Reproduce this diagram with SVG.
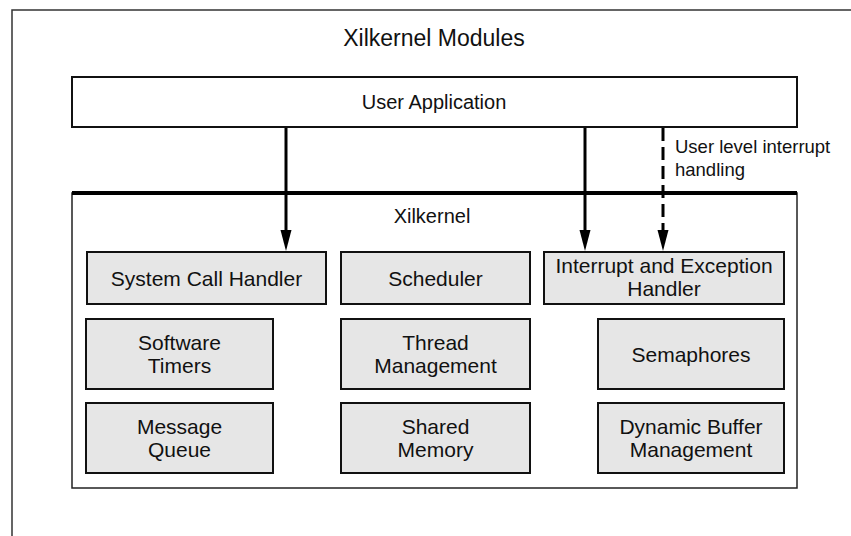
<svg xmlns="http://www.w3.org/2000/svg" width="851" height="536" viewBox="0 0 851 536">
<defs>
<style>
text{font-family:"Liberation Sans",Arial,Helvetica,sans-serif;fill:#111;text-anchor:middle}
.mod rect{fill:#e6e6e6;stroke:#111;stroke-width:2}
.mod text{font-size:21px}
.conn line{stroke:#000;stroke-width:3}
.conn .dash{stroke-dasharray:13 6}
.head{fill:#000}
.lbl{font-size:18.5px;text-anchor:start}
</style>
</defs>
<rect width="851" height="536" fill="#fff"/>
<rect x="12" y="10" width="860" height="540" fill="none" stroke="#333" stroke-width="1.5"/>
<text x="434" y="46" font-size="23">Xilkernel Modules</text>
<g id="user-app">
<rect x="72" y="77" width="725" height="50" fill="#fff" stroke="#111" stroke-width="2"/>
<text x="434" y="109" font-size="20">User Application</text>
</g>
<g id="xilkernel">
<rect x="72" y="193" width="725" height="295" fill="#fff" stroke="#222" stroke-width="1.5"/>
<line x1="72" y1="193" x2="797" y2="193" stroke="#000" stroke-width="4"/>
<text x="432" y="223" font-size="20">Xilkernel</text>
</g>
<g id="syscall" class="mod"><rect x="87" y="252" width="239" height="52"/><text x="206.5" y="285.5">System Call Handler</text></g>
<g id="scheduler" class="mod"><rect x="341" y="252" width="189" height="52"/><text x="435.5" y="285.5">Scheduler</text></g>
<g id="interrupt" class="mod"><rect x="544" y="252" width="240" height="52"/><text x="664" y="273">Interrupt and Exception</text><text x="664" y="296">Handler</text></g>
<g id="timers" class="mod"><rect x="86" y="319" width="187" height="70"/><text x="179.5" y="350">Software</text><text x="179.5" y="373">Timers</text></g>
<g id="thread" class="mod"><rect x="341" y="319" width="189" height="70"/><text x="435.5" y="350">Thread</text><text x="435.5" y="373">Management</text></g>
<g id="semaphores" class="mod"><rect x="598" y="319" width="186" height="70"/><text x="691" y="361.5">Semaphores</text></g>
<g id="msgqueue" class="mod"><rect x="86" y="403" width="187" height="70"/><text x="179.5" y="434">Message</text><text x="179.5" y="457">Queue</text></g>
<g id="shmem" class="mod"><rect x="341" y="403" width="189" height="70"/><text x="435.5" y="434">Shared</text><text x="435.5" y="457">Memory</text></g>
<g id="dynbuf" class="mod"><rect x="598" y="403" width="186" height="70"/><text x="691" y="434">Dynamic Buffer</text><text x="691" y="457">Management</text></g>
<g id="connectors" class="conn">
<line x1="286" y1="128" x2="286" y2="232"/>
<polygon class="head" points="280.5,230 291.5,230 286,251"/>
<line x1="585" y1="128" x2="585" y2="232"/>
<polygon class="head" points="579.5,230 590.5,230 585,251"/>
<line class="dash" x1="663" y1="128" x2="663" y2="232"/>
<polygon class="head" points="657.5,230 668.5,230 663,251"/>
<text class="lbl" x="675" y="153">User level interrupt</text>
<text class="lbl" x="675" y="176">handling</text>
</g>
</svg>
